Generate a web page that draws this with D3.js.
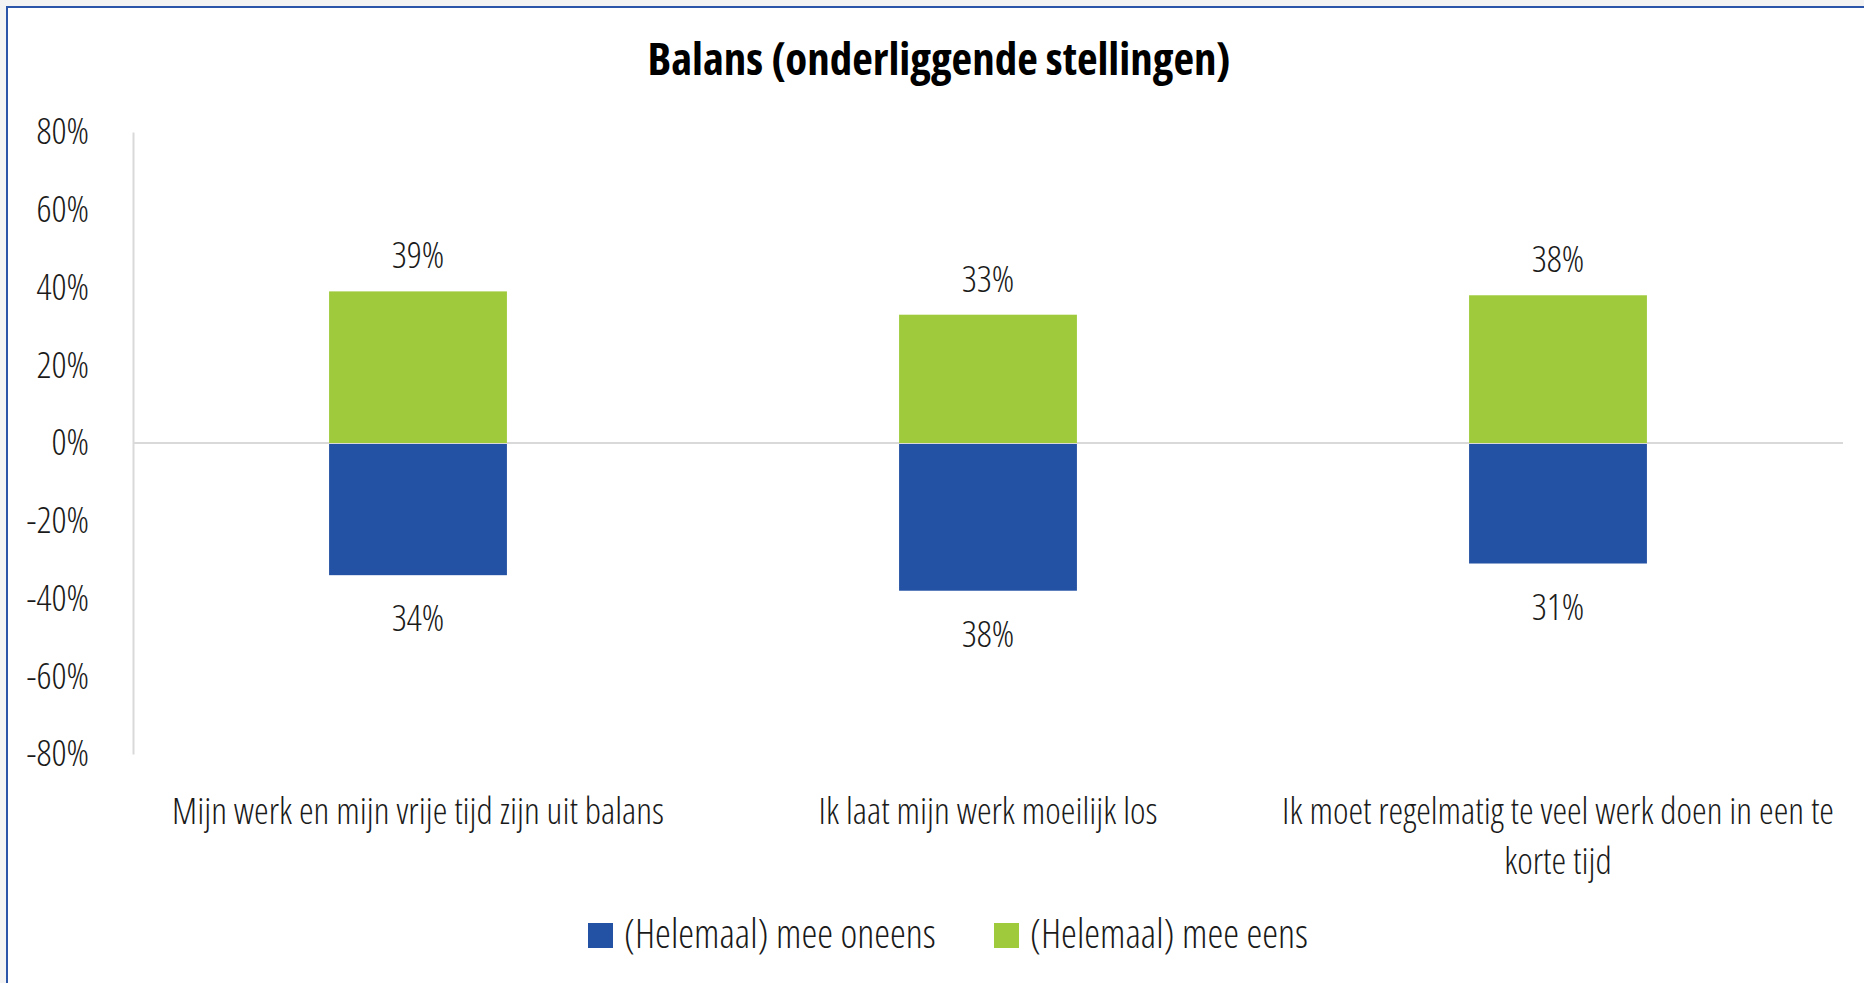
<!DOCTYPE html>
<html>
<head>
<meta charset="utf-8">
<script src="https://cdn.jsdelivr.net/npm/d3@7"></script>
<style>
  html, body { margin: 0; padding: 0; background: #f3f3f3; }
  #chart { width: 1864px; height: 983px; overflow: hidden; }
  svg text { font-family: "Open Sans", sans-serif; font-stretch: 75%; }
</style>
</head>
<body>
<div id="chart"></div>
<script>
const categories = [
  "Mijn werk en mijn vrije tijd zijn uit balans",
  "Ik laat mijn werk moeilijk los",
  "Ik moet regelmatig te veel werk doen in een te korte tijd"
];
const oneens = [34, 38, 31];   // shown below zero
const eens = [39, 33, 38];     // shown above zero
const seriesNames = ["(Helemaal) mee oneens", "(Helemaal) mee eens"];
const yTicks = [-80, -60, -40, -20, 0, 20, 40, 60, 80];

const width = 1864, height = 983;
const plot = { left: 133, right: 1843, top: 132, bottom: 754 };
const colors = { oneens: "#2351a3", eens: "#9eca3c" };
const fs = 37;

const svg = d3.select("#chart")
  .append("svg")
  .attr("width", width)
  .attr("height", height);

// white panel with blue border
svg.append("rect")
  .attr("x", 7).attr("y", 7)
  .attr("width", width + 20).attr("height", height + 20)
  .attr("fill", "#ffffff")
  .attr("stroke", "#2a55a8")
  .attr("stroke-width", 2);

svg.append("text")
  .attr("x", 939)
  .attr("y", 75)
  .attr("text-anchor", "middle")
  .attr("font-size", 45)
  .attr("font-weight", 700)
  .attr("fill", "#000")
  .text("Balans (onderliggende stellingen)");

const x = d3.scaleBand()
  .domain(categories)
  .range([plot.left, plot.right])
  .paddingInner(0.688)
  .paddingOuter(0.344);

const y = d3.scaleLinear()
  .domain([-80, 80])
  .range([plot.bottom, plot.top]);

const yAxis = svg.append("g")
  .attr("transform", `translate(${plot.left},0)`)
  .call(d3.axisLeft(y).tickValues(yTicks).tickSize(0).tickPadding(44)
    .tickFormat(d => d + "%"));
yAxis.select(".domain").attr("stroke", "#d9d9d9").attr("stroke-width", 2);
yAxis.selectAll("text")
  .attr("font-family", null)
  .attr("font-size", fs)
  .attr("font-weight", 300)
  .attr("fill", "#1a1a1a");

// zero line
svg.append("line")
  .attr("x1", plot.left).attr("x2", plot.right)
  .attr("y1", y(0)).attr("y2", y(0))
  .attr("stroke", "#d9d9d9")
  .attr("stroke-width", 2);

const rows = categories.map((c, i) => ({ cat: c, pos: eens[i], neg: oneens[i] }));

svg.selectAll(".bar-eens")
  .data(rows)
  .join("rect")
  .attr("class", "bar-eens")
  .attr("x", d => x(d.cat))
  .attr("width", x.bandwidth())
  .attr("y", d => y(d.pos))
  .attr("height", d => y(0) - y(d.pos))
  .attr("fill", colors.eens);

svg.selectAll(".bar-oneens")
  .data(rows)
  .join("rect")
  .attr("class", "bar-oneens")
  .attr("x", d => x(d.cat))
  .attr("width", x.bandwidth())
  .attr("y", y(0) + 1)
  .attr("height", d => y(-d.neg) - y(0) - 1)
  .attr("fill", colors.oneens);

const labelStyle = sel => sel
  .attr("text-anchor", "middle")
  .attr("font-size", fs)
  .attr("font-weight", 300)
  .attr("fill", "#1a1a1a");

svg.selectAll(".lbl-pos")
  .data(rows)
  .join("text")
  .attr("class", "lbl-pos")
  .attr("x", d => x(d.cat) + x.bandwidth() / 2)
  .attr("y", d => y(d.pos) - 23)
  .call(labelStyle)
  .text(d => d.pos + "%");

svg.selectAll(".lbl-neg")
  .data(rows)
  .join("text")
  .attr("class", "lbl-neg")
  .attr("x", d => x(d.cat) + x.bandwidth() / 2)
  .attr("y", d => y(-d.neg) + 56)
  .call(labelStyle)
  .text(d => d.neg + "%");

// category labels, wrapped to the band step
const step = x.step();
const catText = svg.selectAll(".cat")
  .data(categories)
  .join("text")
  .attr("class", "cat")
  .attr("x", d => x(d) + x.bandwidth() / 2)
  .attr("y", 824)
  .call(labelStyle);

catText.each(function(d) {
  const t = d3.select(this);
  const words = d.split(" ");
  let line = [];
  let tspan = t.append("tspan").attr("x", t.attr("x")).attr("dy", 0);
  for (const w of words) {
    line.push(w);
    tspan.text(line.join(" "));
    if (tspan.node().getComputedTextLength() > step - 4 && line.length > 1) {
      line.pop();
      tspan.text(line.join(" "));
      line = [w];
      tspan = t.append("tspan").attr("x", t.attr("x")).attr("dy", 50).text(w);
    }
  }
});

// legend
const legendItems = [
  { name: seriesNames[0], color: colors.oneens, x: 588 },
  { name: seriesNames[1], color: colors.eens, x: 994 }
];
const lg = svg.selectAll(".legend")
  .data(legendItems)
  .join("g")
  .attr("class", "legend")
  .attr("transform", d => `translate(${d.x},923)`);
lg.append("rect")
  .attr("width", 25).attr("height", 25)
  .attr("fill", d => d.color);
lg.append("text")
  .attr("x", 36)
  .attr("y", 25)
  .attr("font-size", 40)
  .attr("font-weight", 300)
  .attr("fill", "#1a1a1a")
  .text(d => d.name);
</script>
</body>
</html>
